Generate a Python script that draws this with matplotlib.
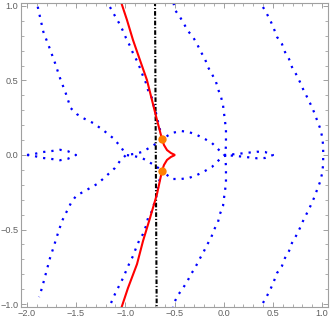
import matplotlib
matplotlib.use("Agg")
import matplotlib.pyplot as plt
from matplotlib.ticker import MultipleLocator, FixedLocator, FixedFormatter

# ---- data ----
# left outer curve (top branch -> saddle -> bottom branch)
left_x = [-1.890, -1.833, -1.775, -1.714, -1.664, -1.606, -1.555, -1.494, -1.430, -1.328,
          -1.227, -1.125, -1.044, -0.993, -1.054, -1.105, -1.227, -1.288, -1.359, -1.430,
          -1.501, -1.552, -1.593, -1.643, -1.684, -1.735, -1.765, -1.806, -1.847, -1.877]
left_y = [0.995, 0.827, 0.727, 0.617, 0.517, 0.416, 0.315, 0.275, 0.248, 0.215,
          0.168, 0.114, 0.054, 0.0, -0.040, -0.087, -0.161, -0.195, -0.222, -0.248,
          -0.275, -0.322, -0.376, -0.443, -0.524, -0.631, -0.691, -0.792, -0.893, -0.953]

# small thin loop at the left along y=0
lloop_x = [-1.999, -1.918, -1.836, -1.745, -1.664, -1.582, -1.501,
           -1.582, -1.664, -1.745, -1.836, -1.918, -1.999]
lloop_y = [0.0, 0.008, 0.020, 0.027, 0.035, 0.025, 0.0,
           -0.025, -0.035, -0.027, -0.020, -0.008, 0.0]

# small thin loop at the right along y=0
rloop_x = [0.003, 0.084, 0.176, 0.257, 0.338, 0.420, 0.501,
           0.420, 0.338, 0.257, 0.176, 0.084, 0.003]
rloop_y = [0.0, 0.004, 0.010, 0.016, 0.022, 0.020, 0.0,
           -0.020, -0.022, -0.016, -0.010, -0.004, 0.0]

# middle-right curve (top -> x=0 -> bottom)
mid_x = [-0.510, -0.495, -0.444, -0.403, -0.363, -0.312, -0.271, -0.231, -0.190, -0.160,
         -0.119, -0.078, -0.058, -0.027, -0.007, 0.003, 0.013, 0.023, 0.023, 0.023,
         0.013, 0.023, 0.023, 0.023, 0.013, 0.003, -0.007, -0.038, -0.058, -0.099,
         -0.129, -0.170, -0.210, -0.251, -0.292, -0.332, -0.373, -0.414, -0.464, -0.505, -0.515]
mid_y = [1.020, 0.973, 0.926, 0.879, 0.832, 0.792, 0.745, 0.691, 0.644, 0.590,
         0.543, 0.490, 0.443, 0.389, 0.335, 0.282, 0.228, 0.174, 0.121, 0.060,
         0.0, -0.074, -0.128, -0.188, -0.242, -0.289, -0.342, -0.396, -0.450, -0.503,
         -0.557, -0.604, -0.658, -0.705, -0.759, -0.799, -0.852, -0.893, -0.940, -0.993, -1.020]

# rightmost curve
right_x = [0.399, 0.440, 0.481, 0.511, 0.542, 0.592, 0.623, 0.664, 0.694, 0.735,
           0.775, 0.806, 0.847, 0.887, 0.918, 0.948, 0.979, 0.999, 1.009, 1.012,
           1.009, 0.999, 0.979, 0.948, 0.918, 0.887, 0.847, 0.806, 0.775, 0.735,
           0.694, 0.664, 0.623, 0.592, 0.542, 0.511, 0.481, 0.440, 0.399]
right_y = [0.993, 0.946, 0.892, 0.846, 0.792, 0.745, 0.691, 0.644, 0.590, 0.543,
           0.490, 0.443, 0.389, 0.335, 0.288, 0.235, 0.181, 0.127, 0.074, 0.0,
           -0.074, -0.127, -0.181, -0.235, -0.288, -0.335, -0.389, -0.443, -0.490, -0.543,
           -0.590, -0.644, -0.691, -0.745, -0.792, -0.846, -0.892, -0.946, -0.993]

# upper curve next to the red one: top -> orange point -> loop -> x=0
upA_x = [-1.156, -1.105, -1.064, -1.023, -0.993, -0.952, -0.922, -0.881, -0.851, -0.820,
         -0.790, -0.769, -0.729, -0.708, -0.688, -0.667, -0.647, -0.627,
         -0.576, -0.525, -0.434, -0.353, -0.271, -0.190, -0.119, -0.058, 0.003]
upA_y = [0.993, 0.933, 0.886, 0.832, 0.785, 0.731, 0.684, 0.631, 0.584, 0.530,
         0.483, 0.436, 0.382, 0.322, 0.282, 0.221, 0.168, 0.107,
         0.127, 0.148, 0.161, 0.154, 0.134, 0.107, 0.080, 0.040, 0.0]

# lower curve next to the red one: bottom -> orange point -> loop -> x=0
loA_x = [-1.145, -1.105, -1.064, -1.023, -0.993, -0.962, -0.922, -0.891, -0.861, -0.820,
         -0.790, -0.769, -0.729, -0.708, -0.678, -0.657, -0.627,
         -0.576, -0.525, -0.434, -0.353, -0.271, -0.190, -0.119, -0.058, 0.003]
loA_y = [-0.993, -0.933, -0.879, -0.826, -0.779, -0.732, -0.678, -0.624, -0.577, -0.530,
         -0.477, -0.423, -0.376, -0.329, -0.262, -0.180, -0.108,
         -0.134, -0.161, -0.161, -0.154, -0.134, -0.107, -0.080, -0.040, 0.0]

# branches from the saddle to the orange points
sad_x = [-0.627, -0.678, -0.759, -0.830, -0.912, -0.993, -0.912, -0.830, -0.759, -0.678, -0.627]
sad_y = [0.107, 0.080, 0.047, 0.020, 0.007, 0.0, -0.007, -0.020, -0.047, -0.080, -0.107]

# red curve with cusp
red_x = [-1.050, -0.983, -0.922, -0.851, -0.780, -0.729, -0.678, -0.627, -0.607, -0.576,
         -0.536, -0.495, -0.536, -0.576, -0.607, -0.627, -0.678, -0.749, -0.820, -0.881,
         -0.973, -1.044]
red_y = [1.040, 0.906, 0.772, 0.637, 0.503, 0.369, 0.235, 0.107, 0.067, 0.033,
         0.013, 0.0, -0.013, -0.033, -0.067, -0.107, -0.262, -0.423, -0.577, -0.732,
         -0.893, -1.034]

# black dash-dot line
blk_x = [-0.698, -0.694, -0.690, -0.686, -0.681]
blk_y = [1.03, 0.5, 0.0, -0.5, -1.03]

# orange points
pts_x = [-0.627, -0.627]
pts_y = [0.107, -0.107]

xticks = [-2.0, -1.5, -1.0, -0.5, 0.0, 0.5, 1.0]
xticklabels = ["\u22122.0", "\u22121.5", "\u22121.0", "\u22120.5", "0.0", "0.5", "1.0"]
yticks = [-1.0, -0.5, 0.0, 0.5, 1.0]
yticklabels = ["\u22121.0", "\u22120.5", "0.0", "0.5", "1.0"]

# ---- drawing ----
plt.rcParams['font.family'] = ['Liberation Sans', 'DejaVu Sans']
fig = plt.figure(figsize=(3.30, 3.22), dpi=100)
ax = fig.add_axes([21/330, 15/322, 307/330, 304/322])

dot = dict(color=(0, 0, 1), lw=1.6, linestyle=(0, (1, 2.7)), dash_capstyle="butt")
for xs, ys in [(left_x, left_y), (lloop_x, lloop_y), (rloop_x, rloop_y), (mid_x, mid_y),
               (right_x, right_y), (upA_x, upA_y), (loA_x, loA_y), (sad_x, sad_y)]:
    ax.plot(xs, ys, **dot)

ax.plot(blk_x, blk_y, color="black", lw=1.5, linestyle=(0, (2.2, 0.9, 0.6, 0.9)))
ax.plot(red_x, red_y, color=(1, 0, 0), lw=1.5, solid_joinstyle="miter")
ax.plot(pts_x, pts_y, "o", color=(1, 0.5, 0), ms=6, mec="none")

ax.set_xlim(-2.06, 1.06)
ax.set_ylim(-1.02, 1.02)

frame_col = "#a0a0a0"
for s in ax.spines.values():
    s.set_color(frame_col)
    s.set_linewidth(0.8)

ax.xaxis.set_major_locator(FixedLocator(xticks))
ax.xaxis.set_major_formatter(FixedFormatter(xticklabels))
ax.yaxis.set_major_locator(FixedLocator(yticks))
ax.yaxis.set_major_formatter(FixedFormatter(yticklabels))
ax.xaxis.set_minor_locator(MultipleLocator(0.1))
ax.yaxis.set_minor_locator(MultipleLocator(0.1))
ax.tick_params(which="both", direction="in", top=True, right=True, color=frame_col,
               labelcolor="#606060", labelsize=6.6, pad=1.8)
ax.tick_params(which="major", length=3.5, width=0.7)
ax.tick_params(which="minor", length=2, width=0.6)

fig.savefig("out.png", dpi=100)
